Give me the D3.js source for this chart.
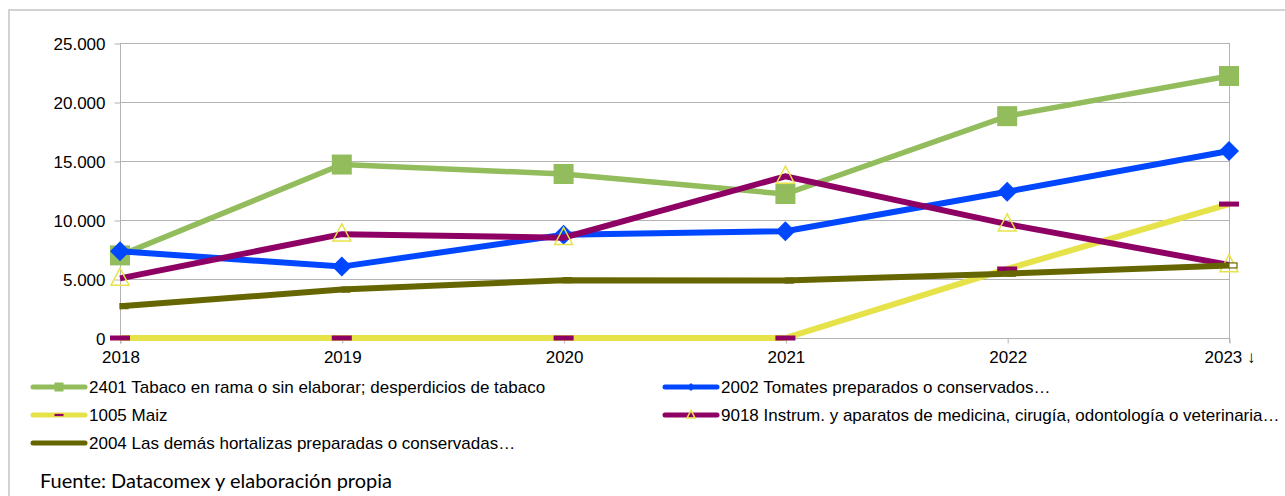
<!DOCTYPE html>
<html>
<head>
<meta charset="utf-8">
<script src="https://cdn.jsdelivr.net/npm/d3@7"></script>
<style>
  html, body { margin: 0; padding: 0; background: #fff; }
  svg { display: block; }
  text { font-family: "Liberation Sans", Arial, sans-serif; fill: #000; }
</style>
</head>
<body>
<svg id="chart" width="1285" height="496"></svg>
<script>
// ---- data ----
const years = ["2018", "2019", "2020", "2021", "2022", "2023"];
const yearLabels = ["2018", "2019", "2020", "2021", "2022", "2023 ↓"];
const yTicks = [0, 5000, 10000, 15000, 20000, 25000];
const yTickLabels = ["0", "5.000", "10.000", "15.000", "20.000", "25.000"];

const names = [
  "2401 Tabaco en rama o sin elaborar; desperdicios de tabaco",
  "2002 Tomates preparados o conservados…",
  "1005 Maiz",
  "9018 Instrum. y aparatos de medicina, cirugía, odontología o veterinaria…",
  "2004 Las demás hortalizas preparadas o conservadas…"
];
const tabaco    = [7000, 14700, 13900, 12200, 18800, 22200];
const tomates   = [7350, 6050, 8750, 9050, 12400, 15850];
const maiz      = [0, 0, 0, 0, 5850, 11350];
const instrum   = [5050, 8800, 8500, 13700, 9650, 6200];
const hortaliza = [2700, 4100, 4900, 4870, 5450, 6150];

const colors = ["#93bd5c", "#0047ff", "#e6e24a", "#8f0064", "#666600"];
const markers = ["square", "diamond", "dash", "triangle", "rect"];
const seriesValues = [tabaco, tomates, maiz, instrum, hortaliza];

// ---- layout ----
const svg = d3.select("#chart");
const x = d3.scalePoint().domain(years).range([120, 1229]);
const y = d3.scaleLinear().domain([0, 25000]).range([338, 43]);

// outer frame
svg.append("rect").attr("x", 9).attr("y", 10).attr("width", 1290).attr("height", 500)
  .attr("fill", "none").attr("stroke", "#c3c3c3").attr("stroke-width", 1.5);

// gridlines
svg.append("g").selectAll("line").data(yTicks).join("line")
  .attr("x1", x("2018")).attr("x2", x("2023"))
  .attr("y1", d => y(d) + 0.5).attr("y2", d => y(d) + 0.5)
  .attr("stroke", "#b3b3b3").attr("stroke-width", 1);
// right plot border
svg.append("line").attr("x1", x("2023") + 0.5).attr("x2", x("2023") + 0.5)
  .attr("y1", y(25000)).attr("y2", y(0) + 5).attr("stroke", "#b3b3b3");

// y axis
const yAxis = d3.axisLeft(y).tickValues(yTicks)
  .tickFormat((d, i) => yTickLabels[i]).tickSize(6).tickPadding(9);
const gy = svg.append("g").attr("transform", `translate(${x("2018") + 0.5},0.5)`).call(yAxis);
gy.select(".domain").attr("stroke", "#b3b3b3").attr("d", `M0,${y(25000)}V${y(0) + 5}`);
gy.selectAll(".tick line").attr("stroke", "#b3b3b3");
gy.selectAll(".tick text").style("font-size", "17px").attr("font-family", "Liberation Sans, Arial, sans-serif").attr("dy", "0.35em");

// x axis
const xAxis = d3.axisBottom(x).tickFormat((d, i) => yearLabels[i]).tickSize(5).tickPadding(7);
const gx = svg.append("g").attr("transform", `translate(0.5,${y(0) + 0.5})`).call(xAxis);
gx.select(".domain").remove();
gx.selectAll(".tick line").attr("stroke", "#b3b3b3");
gx.selectAll(".tick text").style("font-size", "17px").attr("font-family", "Liberation Sans, Arial, sans-serif");

// ---- series ----
const line = d3.line().x((d, i) => x(years[i])).y(d => y(d));

function drawMarker(g, type, cx, cy, scale) {
  const s = scale || 1;
  if (type === "square") {
    g.append("rect").attr("x", cx - 10 * s).attr("y", cy - 10 * s)
      .attr("width", 20 * s).attr("height", 20 * s).attr("fill", colors[0]);
  } else if (type === "diamond") {
    const r = 10 * s;
    g.append("path").attr("d", `M${cx},${cy - r}L${cx + r},${cy}L${cx},${cy + r}L${cx - r},${cy}Z`)
      .attr("fill", colors[1]);
  } else if (type === "dash") {
    g.append("rect").attr("x", cx - 10 * s).attr("y", cy - 2.5 * s)
      .attr("width", 20 * s).attr("height", 5 * s).attr("fill", colors[3]);
  } else if (type === "triangle") {
    const w = 9 * s, h = 17 * s;
    g.append("path").attr("d", `M${cx},${cy - h * 0.6}L${cx + w},${cy + h * 0.4}L${cx - w},${cy + h * 0.4}Z`)
      .attr("fill", "none").attr("stroke", colors[2]).attr("stroke-width", 1.5);
  } else if (type === "rect") {
    g.append("rect").attr("x", cx).attr("y", cy - 2.5 * s)
      .attr("width", 8 * s).attr("height", 5 * s)
      .attr("fill", "#fff").attr("stroke", colors[4]).attr("stroke-width", 1.2);
  }
}

const plot = svg.append("g");
seriesValues.forEach((vals, si) => {
  const g = plot.append("g");
  const under = markers[si] === "rect";
  if (under) vals.forEach((v, i) => drawMarker(g, markers[si], x(years[i]), y(v)));
  g.append("path").datum(vals).attr("d", line)
    .attr("fill", "none").attr("stroke", colors[si])
    .attr("stroke-width", si === 0 ? 5.5 : 6).attr("stroke-linejoin", "miter");
  if (!under) vals.forEach((v, i) => drawMarker(g, markers[si], x(years[i]), y(v)));
});

// ---- legend ----
const legendPos = [
  { lx: 31, ly: 387 }, { lx: 663, ly: 387 },
  { lx: 31, ly: 415 }, { lx: 663, ly: 415 },
  { lx: 31, ly: 443 }
];
const leg = svg.append("g");
names.forEach((n, i) => {
  const p = legendPos[i];
  const g = leg.append("g");
  g.append("line").attr("x1", p.lx + 2).attr("x2", p.lx + 54).attr("y1", p.ly).attr("y2", p.ly)
    .attr("stroke", colors[i]).attr("stroke-width", 5).attr("stroke-linecap", "round");
  const mx = p.lx + 28;
  if (markers[i] === "square") drawMarker(g, "square", mx, p.ly, 0.45);
  else if (markers[i] === "diamond") drawMarker(g, "diamond", mx, p.ly, 0.4);
  else if (markers[i] === "dash") drawMarker(g, "dash", mx, p.ly, 0.45);
  else if (markers[i] === "triangle") drawMarker(g, "triangle", mx, p.ly, 0.45);
  g.append("text").attr("x", p.lx + 58).attr("y", p.ly).attr("dy", "0.36em")
    .style("font-size", "17px").text(n);
});

// source note
svg.append("text").attr("x", 40).attr("y", 488)
  .style("font-family", "Lato, 'Open Sans', sans-serif")
  .style("font-size", "19px").attr("textLength", 352).attr("lengthAdjust", "spacingAndGlyphs")
  .text("Fuente: Datacomex y elaboración propia");
</script>
</body>
</html>
